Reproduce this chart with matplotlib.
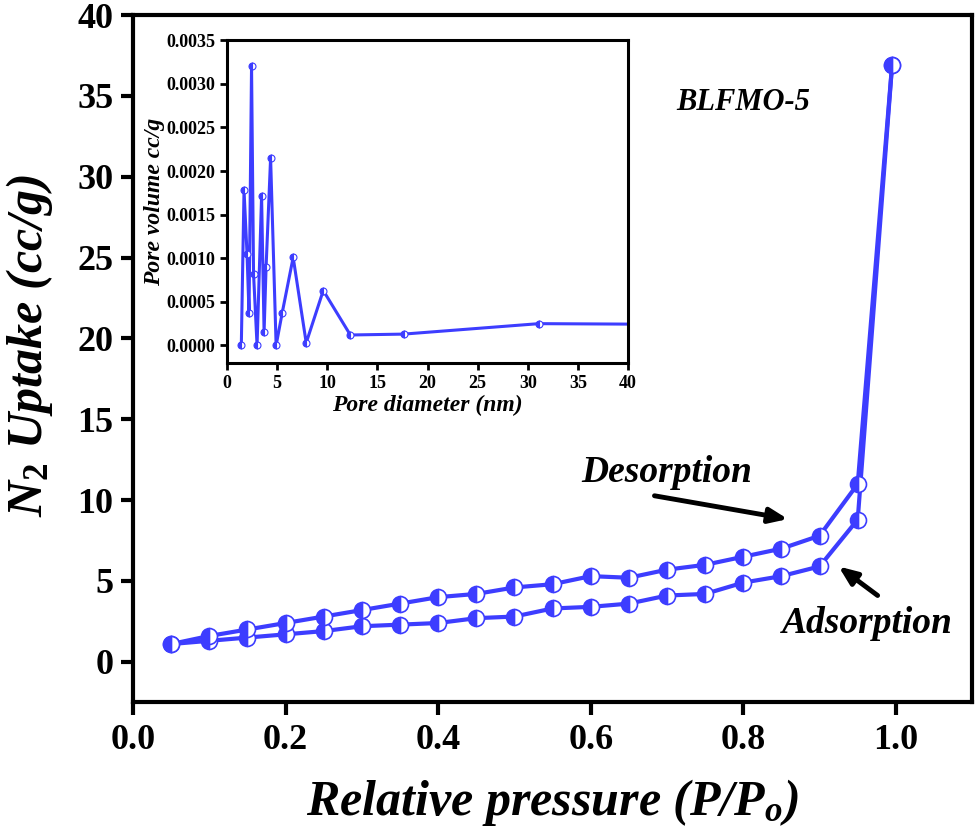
import matplotlib
matplotlib.use("Agg")
import matplotlib.pyplot as plt

# Main isotherm data
p_rel = [0.05, 0.10, 0.15, 0.20, 0.25, 0.30, 0.35, 0.40, 0.45, 0.50,
         0.55, 0.60, 0.65, 0.70, 0.75, 0.80, 0.85, 0.90, 0.95, 0.995]
adsorption = [1.1, 1.3, 1.5, 1.7, 1.9, 2.2, 2.3, 2.4, 2.7, 2.8,
              3.3, 3.4, 3.6, 4.1, 4.2, 4.9, 5.3, 5.9, 8.8, 36.9]
desorption = [1.1, 1.6, 2.0, 2.4, 2.8, 3.2, 3.6, 4.0, 4.2, 4.6,
              4.8, 5.3, 5.2, 5.7, 6.0, 6.5, 7.0, 7.8, 11.0, 36.9]

# Inset pore size distribution
pore_d = [1.43, 1.7, 2.0, 2.2, 2.45, 2.65, 3.0, 3.45, 3.7, 3.9, 4.35, 4.9,
          5.5, 6.6, 7.9, 9.6, 12.3, 17.6, 31.1, 48.0]
pore_v = [0.0, 0.00178, 0.00105, 0.00037, 0.0032, 0.00082, 0.0, 0.00171,
          0.00015, 0.0009, 0.00215, 0.0, 0.00037, 0.00101, 0.00003, 0.00063,
          0.00012, 0.00013, 0.00025, 0.00024]

main_x_ticks = [0.0, 0.2, 0.4, 0.6, 0.8, 1.0]
main_y_ticks = [0, 5, 10, 15, 20, 25, 30, 35, 40]
inset_x_ticks = [0, 5, 10, 15, 20, 25, 30, 35, 40]
inset_y_ticks = [0.0, 0.0005, 0.0010, 0.0015, 0.0020, 0.0025, 0.0030, 0.0035]

BLUE = '#3d3dff'
SERIF = ['Liberation Serif', 'DejaVu Serif']
plt.rcParams['font.family'] = SERIF
plt.rcParams['mathtext.fontset'] = 'custom'
plt.rcParams['mathtext.rm'] = 'Liberation Serif:bold'
plt.rcParams['mathtext.it'] = 'Liberation Serif:bold:italic'

fig = plt.figure(figsize=(9.8, 8.4), dpi=100)
ax = fig.add_axes([0.1357, 0.164, 0.8563, 0.818])

mk = dict(marker='o', fillstyle='left', markerfacecoloralt='white',
          markeredgecolor=BLUE, color=BLUE, markerfacecolor=BLUE)
ax.plot(p_rel, adsorption, lw=3, ms=11.5, mew=1.2, **mk)
ax.plot(p_rel, desorption, lw=3, ms=11.5, mew=1.2, **mk)

ax.set_xlim(0.0, 1.1)
ax.set_ylim(-2.5, 40)
ax.set_xticks(main_x_ticks)
ax.set_xticklabels([f"{v:.1f}" for v in main_x_ticks])
ax.set_yticks(main_y_ticks)
ax.tick_params(axis='both', labelsize=26, width=3, length=9, direction='out', pad=5)
ax.tick_params(axis='x', pad=7)
for lab in ax.get_xticklabels() + ax.get_yticklabels():
    lab.set_fontweight('bold')
for s in ax.spines.values():
    s.set_linewidth(3)

ax.set_xlabel(r'Relative pressure (P/P$_{o}$)', fontsize=36, fontweight='bold',
              fontstyle='italic', labelpad=14)
ax.set_ylabel(r'N$_{2}$ Uptake (cc/g)', fontsize=36, fontweight='bold',
              fontstyle='italic')
ax.yaxis.set_label_coords(-0.093, 0.52)

ax.text(0.80, 34.6, 'BLFMO-5', fontsize=22, fontweight='bold', fontstyle='italic',
        ha='center', va='center')
ax.text(0.70, 11.7, 'Desorption', fontsize=27, fontweight='bold', fontstyle='italic',
        ha='center', va='center')
ax.text(0.963, 2.4, 'Adsorption', fontsize=27, fontweight='bold', fontstyle='italic',
        ha='center', va='center')
ax.annotate('', xy=(0.862, 8.8), xytext=(0.68, 10.3),
            arrowprops=dict(arrowstyle='-|>,head_length=1.1,head_width=0.45',
                            color='black', lw=3.5))
ax.annotate('', xy=(0.922, 6.0), xytext=(0.979, 4.0),
            arrowprops=dict(arrowstyle='-|>,head_length=1.1,head_width=0.45',
                            color='black', lw=3.5))

# Inset
ins = fig.add_axes([0.2316, 0.568, 0.4094, 0.384])
ins.plot(pore_d, pore_v, lw=2.2, ms=5, mew=0.8, **mk)
ins.set_xlim(0, 40)
ins.set_ylim(-0.0002, 0.0035)
ins.set_xticks(inset_x_ticks)
ins.set_yticks(inset_y_ticks)
ins.set_yticklabels([f"{v:.4f}" for v in inset_y_ticks])
ins.tick_params(axis='both', labelsize=13, width=2, length=5)
for lab in ins.get_xticklabels() + ins.get_yticklabels():
    lab.set_fontweight('bold')
for s in ins.spines.values():
    s.set_linewidth(2.2)
ins.set_xlabel('Pore diameter (nm)', fontsize=17, fontweight='bold',
               fontstyle='italic', labelpad=2)
ins.set_ylabel('Pore volume cc/g', fontsize=17, fontweight='bold',
               fontstyle='italic', labelpad=1)

fig.savefig('out.png', dpi=100)
